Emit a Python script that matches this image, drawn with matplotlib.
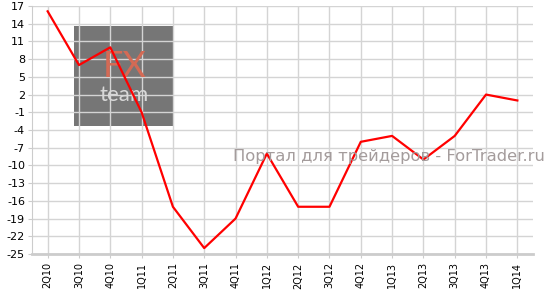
import matplotlib.pyplot as plt
import matplotlib.patches as patches

plt.rcParams['axes.unicode_minus'] = False

quarters = ['2Q10', '3Q10', '4Q10', '1Q11', '2Q11', '3Q11', '4Q11', '1Q12',
            '2Q12', '3Q12', '4Q12', '1Q13', '2Q13', '3Q13', '4Q13', '1Q14']
values = [16.1, 7, 10, -1, -17, -24, -19, -8, -17, -17, -6, -5, -9, -5, 2, 1]
yticks = list(range(-25, 18, 3))

fig = plt.figure(figsize=(5.49, 2.90), dpi=100)
ax = fig.add_axes([32/549, 1-254/290, (533-32)/549, (254-6)/290])

x = list(range(len(quarters)))

# watermark logo box
ax.add_patch(patches.Rectangle((0.85, -3.4), 3.15, 17.0, facecolor='#767676',
                               edgecolor='none', zorder=0))
ax.text(2.45, 6.8, 'FX', color='#d46a55', fontsize=26, ha='center', va='center',
        family='Lato', stretch='expanded', zorder=2)
ax.text(2.45, 2.0, 'team', color='#d8d8d8', fontsize=16, ha='center', va='center',
        family='Lato', zorder=2)

ax.grid(True, color='#d4d4d4', linewidth=1)
ax.set_axisbelow(True)
ax.plot(x, values, color='#ff0000', linewidth=1.6, zorder=3)

ax.set_xlim(-0.5, 15.5)
ax.set_ylim(-25, 17)
ax.set_yticks(yticks)
ax.set_xticks(x)
ax.set_xticklabels(quarters, rotation=90, fontsize=7)
ax.tick_params(axis='y', labelsize=8, length=3, color='#cccccc', pad=2)
ax.tick_params(axis='x', length=3, color='#cccccc', pad=3)

for s in ['top', 'right']:
    ax.spines[s].set_visible(False)
ax.spines['left'].set_color('#cccccc')
ax.spines['bottom'].set_color('#cccccc')
ax.spines['bottom'].set_linewidth(2)

fig.text(233/549, 1-157/290, 'Портал для трейдеров - ForTrader.ru', color='#a49c9c',
         fontsize=11.8, va='center', ha='left', zorder=2)

fig.savefig('out.png', dpi=100)
